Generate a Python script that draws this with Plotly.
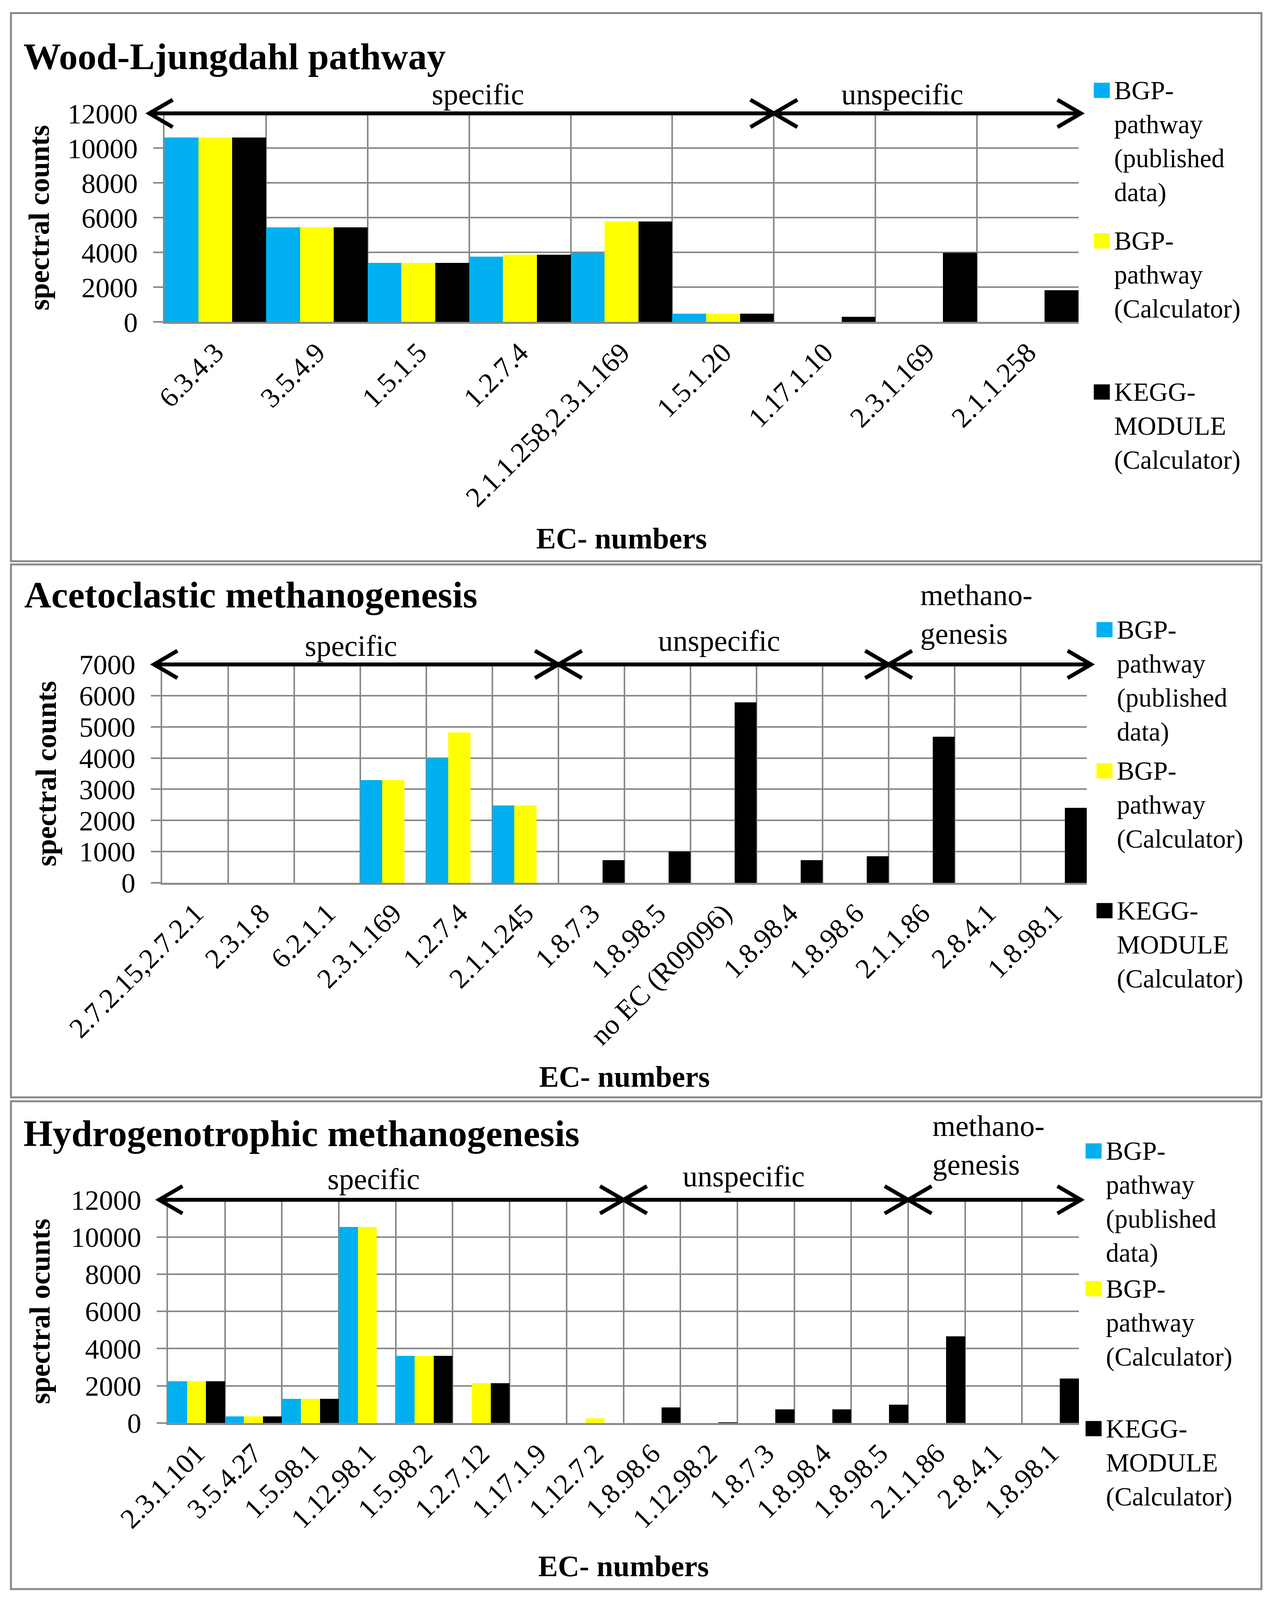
import plotly.graph_objects as go

# ---------------- data ----------------
series_names = ["BGP-<br>pathway<br>(published<br>data)",
                "BGP-<br>pathway<br>(Calculator)",
                "KEGG-<br>MODULE<br>(Calculator)"]
series_colors = ["#00B0F0", "#FFFF00", "#000000"]

# Wood-Ljungdahl pathway
wl_ec = ["6.3.4.3", "3.5.4.9", "1.5.1.5", "1.2.7.4", "2.1.1.258,2.3.1.169",
         "1.5.1.20", "1.17.1.10", "2.3.1.169", "2.1.1.258"]
wl_published = [10600, 5430, 3390, 3760, 3980, 480, 0, 0, 0]
wl_bgp_calc = [10600, 5430, 3390, 3870, 5780, 480, 0, 0, 0]
wl_kegg = [10600, 5430, 3390, 3870, 5780, 480, 300, 3970, 1820]

# Acetoclastic methanogenesis
am_ec = ["2.7.2.15,2.7.2.1", "2.3.1.8", "6.2.1.1", "2.3.1.169", "1.2.7.4",
         "2.1.1.245", "1.8.7.3", "1.8.98.5", "no EC (R09096)", "1.8.98.4",
         "1.8.98.6", "2.1.1.86", "2.8.4.1", "1.8.98.1"]
am_published = [0, 0, 0, 3300, 4000, 2480, 0, 0, 0, 0, 0, 0, 0, 0]
am_bgp_calc = [0, 0, 0, 3300, 4820, 2480, 0, 0, 0, 0, 0, 0, 0, 0]
am_kegg = [0, 0, 0, 0, 0, 0, 730, 1000, 5790, 730, 850, 4680, 0, 2410]

# Hydrogenotrophic methanogenesis
hm_ec = ["2.3.1.101", "3.5.4.27", "1.5.98.1", "1.12.98.1", "1.5.98.2",
         "1.2.7.12", "1.17.1.9", "1.12.7.2", "1.8.98.6", "1.12.98.2",
         "1.8.7.3", "1.8.98.4", "1.8.98.5", "2.1.1.86", "2.8.4.1", "1.8.98.1"]
hm_published = [2250, 370, 1310, 10550, 3620, 0, 0, 0, 0, 0, 0, 0, 0, 0, 0, 0]
hm_bgp_calc = [2250, 370, 1310, 10550, 3620, 2150, 0, 260, 0, 0, 0, 0, 0, 0, 0, 0]
hm_kegg = [2250, 370, 1310, 0, 3620, 2150, 0, 0, 850, 50, 740, 740, 990, 4680, 0, 2410]

# ---------------- geometry helpers ----------------
# reference layout is measured in a 3273 x 4402 frame; the visible page is
# ~4096 px tall, so vertical positions are scaled to keep everything in view.
S = 4096 / 4402
OX, OY = 8, 8
W = 3257
H = 4088

FONT = "Liberation Serif"
GRID = "#898989"


def X(xr):
    return xr - OX


def Y(yr):
    return yr * S - OY


def fx(xr):
    return X(xr) / W


def fy(yr):
    return 1 - Y(yr) / H


def P(xf, yf):
    return f"{xf / W:.6f},{1 - yf / H:.6f}"


panels = [
    dict(ec=wl_ec, vals=[wl_published, wl_bgp_calc, wl_kegg],
         title="Wood-Ljungdahl pathway", ytitle="spectral counts",
         ymax=12000, dtick=2000,
         xpx=(421, 2760), ypx=(312, 886), title_y=155, title_x=58,
         box=(28, 36, 3228, 1544),
         ystand=24, xstand=40,
         leg_x=2859, leg_y=[248, 662, 1078],
         segs=[(-0.5, 5.5), (5.5, 8.5)], left_ext=39, right_ext=6,
         seglabels=[("specific", 1223, 259, "center"),
                    ("unspecific", 2309, 259, "center")]),
    dict(ec=am_ec, vals=[am_published, am_bgp_calc, am_kegg],
         title="Acetoclastic methanogenesis", ytitle="spectral counts",
         ymax=7000, dtick=1000,
         xpx=(415, 2781), ypx=(1828, 2429), title_y=1636, title_x=60,
         box=(28, 1553, 3228, 3019),
         ystand=36, xstand=40,
         leg_x=2866, leg_y=[1732, 2120, 2505],
         segs=[(-0.5, 5.5), (5.5, 10.5), (10.5, 13.5)], left_ext=21, right_ext=11,
         seglabels=[("specific", 898, 1776, "center"),
                    ("unspecific", 1840, 1762, "center"),
                    ("methano-<br>genesis", 2353, 1690, "left")]),
    dict(ec=hm_ec, vals=[hm_published, hm_bgp_calc, hm_kegg],
         title="Hydrogenotrophic methanogenesis", ytitle="spectral ocunts",
         ymax=12000, dtick=2000,
         xpx=(430, 2761), ypx=(3301, 3915), title_y=3118, title_x=58,
         box=(28, 3030, 3228, 4372),
         ystand=31, xstand=56,
         leg_x=2838, leg_y=[3166, 3545, 3930],
         segs=[(-0.5, 7.5), (7.5, 12.5), (12.5, 15.5)], left_ext=23, right_ext=5,
         seglabels=[("specific", 956, 3243, "center"),
                    ("unspecific", 1903, 3236, "center"),
                    ("methano-<br>genesis", 2384, 3150, "left")]),
]

fig = go.Figure()
shapes = []
annotations = []
layout = dict(
    width=W, height=H,
    margin=dict(l=0, r=0, t=0, b=0),
    paper_bgcolor="white", plot_bgcolor="white",
    font=dict(family=FONT, color="black", size=68),
    barmode="group", bargap=0, bargroupgap=0,
    template="none",
)

CHEV_W, CHEV_H, ARROW_W = 60, 35, 10
LEG_ITEMW = 50

for i, p in enumerate(panels):
    n = i + 1
    xa = "x" if n == 1 else f"x{n}"
    ya = "y" if n == 1 else f"y{n}"
    xkey = "xaxis" if n == 1 else f"xaxis{n}"
    ykey = "yaxis" if n == 1 else f"yaxis{n}"

    for j in range(3):
        leg_idx = i * 3 + j + 1
        lkey = "legend" if leg_idx == 1 else f"legend{leg_idx}"
        fig.add_trace(go.Bar(
            x=p["ec"], y=p["vals"][j], name=series_names[j],
            marker=dict(color=series_colors[j], line=dict(width=0)),
            xaxis=xa, yaxis=ya, legend=lkey, showlegend=True,
        ))
        tx = X(p["leg_x"])
        cy = Y(p["leg_y"][j])
        layout[lkey] = dict(
            x=(tx - 68) / W, y=1 - (cy - 53) / H,
            xanchor="left", yanchor="top", valign="top",
            itemwidth=LEG_ITEMW,
            bgcolor="rgba(0,0,0,0)", borderwidth=0,
            font=dict(family=FONT, size=67, color="black"),
        )
        # enlarged legend key (Excel-style square swatch)
        shapes.append(dict(type="rect", xref="paper", yref="paper",
                           x0=(tx - 60) / W, x1=(tx - 19) / W,
                           y0=1 - (cy + 20) / H, y1=1 - (cy - 19) / H,
                           line=dict(width=0), fillcolor=series_colors[j],
                           layer="above"))

    layout[xkey] = dict(
        domain=[fx(p["xpx"][0]), fx(p["xpx"][1])], anchor=ya,
        type="category", tickson="boundaries",
        showgrid=True, gridcolor=GRID, gridwidth=4,
        showline=True, linecolor=GRID, linewidth=5,
        ticks="", tickangle=-45, ticklabelstandoff=2,
        tickfont=dict(family=FONT, size=72, color="black"),
        title=dict(text="<b>EC- numbers</b>", standoff=p["xstand"],
                   font=dict(family=FONT, size=76, color="black")),
        fixedrange=True,
    )
    layout[ykey] = dict(
        domain=[fy(p["ypx"][1]), fy(p["ypx"][0])], anchor=xa,
        range=[0, p["ymax"]], dtick=p["dtick"], tick0=0, tickformat="d",
        showgrid=True, gridcolor=GRID, gridwidth=4, zeroline=False,
        showline=True, linecolor=GRID, linewidth=4,
        ticks="outside", ticklen=25, tickwidth=4, tickcolor=GRID,
        ticklabelstandoff=25,
        tickfont=dict(family=FONT, size=72, color="black"),
        title=dict(text="<b>" + p["ytitle"] + "</b>", standoff=p["ystand"],
                   font=dict(family=FONT, size=74, color="black")),
        fixedrange=True,
    )

    # panel border
    bx0, by0, bx1, by1 = p["box"]
    shapes.append(dict(type="rect", xref="paper", yref="paper",
                       x0=fx(bx0), x1=fx(bx1), y0=fy(by1), y1=fy(by0),
                       line=dict(color=GRID, width=5), fillcolor="rgba(0,0,0,0)",
                       layer="below"))

    # panel title
    annotations.append(dict(text="<b>" + p["title"] + "</b>", xref="paper", yref="paper",
                            x=fx(p["title_x"]), y=fy(p["title_y"]),
                            xanchor="left", yanchor="middle", showarrow=False,
                            font=dict(family=FONT, size=96, color="black")))

    # double-headed arrows running along the top gridline
    x0f, x1f = X(p["xpx"][0]), X(p["xpx"][1])
    ncat = len(p["ec"])
    cw = (x1f - x0f) / ncat
    ytop = Y(p["ypx"][0])
    segs = p["segs"]
    for k, (s0, s1) in enumerate(segs):
        lx = x0f + (s0 + 0.5) * cw - (p["left_ext"] if k == 0 else 0)
        rx = x0f + (s1 + 0.5) * cw + (p["right_ext"] if k == len(segs) - 1 else 0)
        path = (f"M {P(lx, ytop)} L {P(rx, ytop)} "
                f"M {P(lx + CHEV_W, ytop - CHEV_H)} L {P(lx, ytop)} L {P(lx + CHEV_W, ytop + CHEV_H)} "
                f"M {P(rx - CHEV_W, ytop - CHEV_H)} L {P(rx, ytop)} L {P(rx - CHEV_W, ytop + CHEV_H)}")
        shapes.append(dict(type="path", xref="paper", yref="paper", path=path,
                           line=dict(color="black", width=ARROW_W), layer="above"))

    for text, tx, ty, al in p["seglabels"]:
        annotations.append(dict(text=text, xref="paper", yref="paper",
                                x=fx(tx), y=fy(ty),
                                xanchor="center" if al == "center" else "left",
                                yanchor="middle", align=al, showarrow=False,
                                font=dict(family=FONT, size=76, color="black")))

layout["shapes"] = shapes
layout["annotations"] = annotations
fig.update_layout(**layout)

fig.write_html("out.html")
